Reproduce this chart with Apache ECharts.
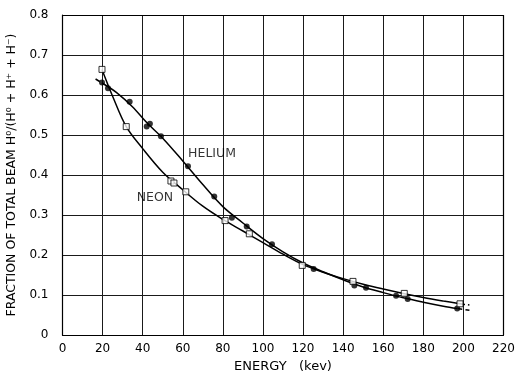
<!DOCTYPE html>
<html>
<head>
<meta charset="utf-8">
<script src="https://cdn.jsdelivr.net/npm/echarts@6/dist/echarts.min.js"></script>
<style>
  html, body { margin: 0; padding: 0; background: #fff; }
  #chart { width: 517px; height: 373px; }
</style>
</head>
<body>
<div id="chart"></div>
<script>
// Measured fractions of neutral hydrogen H0 in the beam vs. energy (kev)
const heliumPoints = [
  [19.7, 0.631], [22.7, 0.617], [33.5, 0.583], [42.0, 0.521], [43.6, 0.528],
  [49.1, 0.497], [62.6, 0.422], [75.7, 0.346], [84.5, 0.293], [91.9, 0.271],
  [104.5, 0.227], [125.3, 0.165], [145.6, 0.124], [151.4, 0.118],
  [166.4, 0.098], [172.2, 0.090], [196.9, 0.066]
];
const neonPoints = [
  [19.7, 0.664], [31.8, 0.521], [54.1, 0.385], [55.6, 0.380], [61.5, 0.358],
  [81.1, 0.286], [93.2, 0.253], [119.6, 0.174], [144.9, 0.134],
  [170.5, 0.104], [198.3, 0.078]
];

// Smooth fitted curves drawn through the measurements
const heliumCurve = [
  [19.7, 0.630], [27, 0.606], [35, 0.570], [42, 0.531], [50, 0.492], [60, 0.435],
  [70, 0.376], [80, 0.321], [90, 0.280], [100, 0.241], [110, 0.208],
  [120, 0.180], [130, 0.158], [140, 0.138], [150, 0.120], [160, 0.106],
  [170, 0.093], [180, 0.082], [190, 0.072], [197, 0.066]
];
const heliumCurveStart = [[16.5, 0.640], [19.7, 0.630]];
const heliumCurveEnd = [[197, 0.066], [203, 0.062]];

const neonCurve = [
  [19.7, 0.664], [25, 0.597], [31.8, 0.521], [40, 0.466], [50, 0.407],
  [60, 0.363], [70, 0.322], [80, 0.289], [90, 0.260], [100, 0.231],
  [110, 0.202], [120, 0.176], [130, 0.157], [140, 0.141], [150, 0.127],
  [160, 0.115], [170, 0.104], [180, 0.094], [190, 0.085], [198.3, 0.078]
];
const neonCurveEnd = [[198.3, 0.078], [203, 0.075]];

const curveLabels = [
  { name: 'HELIUM', value: [74.6, 0.452] },
  { name: 'NEON', value: [46.1, 0.3425] }
];

const xTicks = { min: 0, max: 220, interval: 20 };
const yTicks = { min: 0, max: 0.8, interval: 0.1 };

const FONT = 'DejaVu Sans';
const INK = '#000';

const chart = echarts.init(document.getElementById('chart'), null, { renderer: 'canvas' });

function curve(data, dashed) {
  return {
    type: 'line', data: data, smooth: 0.35, showSymbol: false, silent: true,
    lineStyle: { color: INK, width: 1.5, type: dashed ? [5, 3] : 'solid' },
    z: 2
  };
}

chart.setOption({
  animation: false,
  backgroundColor: '#fff',
  grid: {
    left: 62.5, right: 13.5, top: 15, bottom: 38, show: false,
    containLabel: false, outerBoundsMode: 'none'
  },
  xAxis: {
    type: 'value', min: xTicks.min, max: xTicks.max, interval: xTicks.interval,
    name: 'ENERGY   (kev)', nameLocation: 'middle', nameGap: 23,
    nameTextStyle: { fontFamily: FONT, fontSize: 13, color: INK },
    axisLine: { show: true, lineStyle: { color: INK, width: 1.2 } },
    axisTick: { show: false },
    axisLabel: { fontFamily: FONT, fontSize: 12, color: INK, margin: 8 },
    splitLine: { show: true, lineStyle: { color: '#1a1a1a', width: 1 } }
  },
  yAxis: {
    type: 'value', min: yTicks.min, max: yTicks.max, interval: yTicks.interval,
    name: 'FRACTION OF TOTAL BEAM H\u2070/(H\u2070 + H\u207A + H\u207B)',
    nameLocation: 'middle', nameGap: 44, nameRotate: 90,
    nameTextStyle: { fontFamily: FONT, fontSize: 12.5, color: INK },
    axisLine: { show: true, lineStyle: { color: INK, width: 1.2 } },
    axisTick: { show: false },
    axisLabel: {
      fontFamily: FONT, fontSize: 12, color: INK, margin: 14,
      formatter: v => (v === 0 ? '0' : v.toFixed(1))
    },
    splitLine: { show: true, lineStyle: { color: '#1a1a1a', width: 1 } }
  },
  series: [
    // frame on the right/top edges
    {
      type: 'line', data: [], markLine: {
        silent: true, symbol: 'none', label: { show: false },
        lineStyle: { color: INK, width: 1.2, type: 'solid' },
        data: [{ xAxis: xTicks.max }, { yAxis: yTicks.max }]
      }
    },
    curve(heliumCurve, false),
    curve(heliumCurveStart, true),
    curve(heliumCurveEnd, true),
    curve(neonCurve, false),
    curve(neonCurveEnd, true),
    {
      type: 'scatter', data: heliumPoints, symbol: 'circle', symbolSize: 6,
      itemStyle: { color: INK }, z: 4
    },
    {
      type: 'scatter', data: neonPoints, symbol: 'rect', symbolSize: 6,
      itemStyle: { color: '#fff', borderColor: INK, borderWidth: 1 }, z: 4
    },
    {
      type: 'scatter', data: curveLabels, symbolSize: 0, z: 5,
      label: {
        show: true, position: 'inside', formatter: p => p.name,
        fontFamily: FONT, fontSize: 12.5, color: INK
      }
    }
  ]
});
</script>
</body>
</html>
